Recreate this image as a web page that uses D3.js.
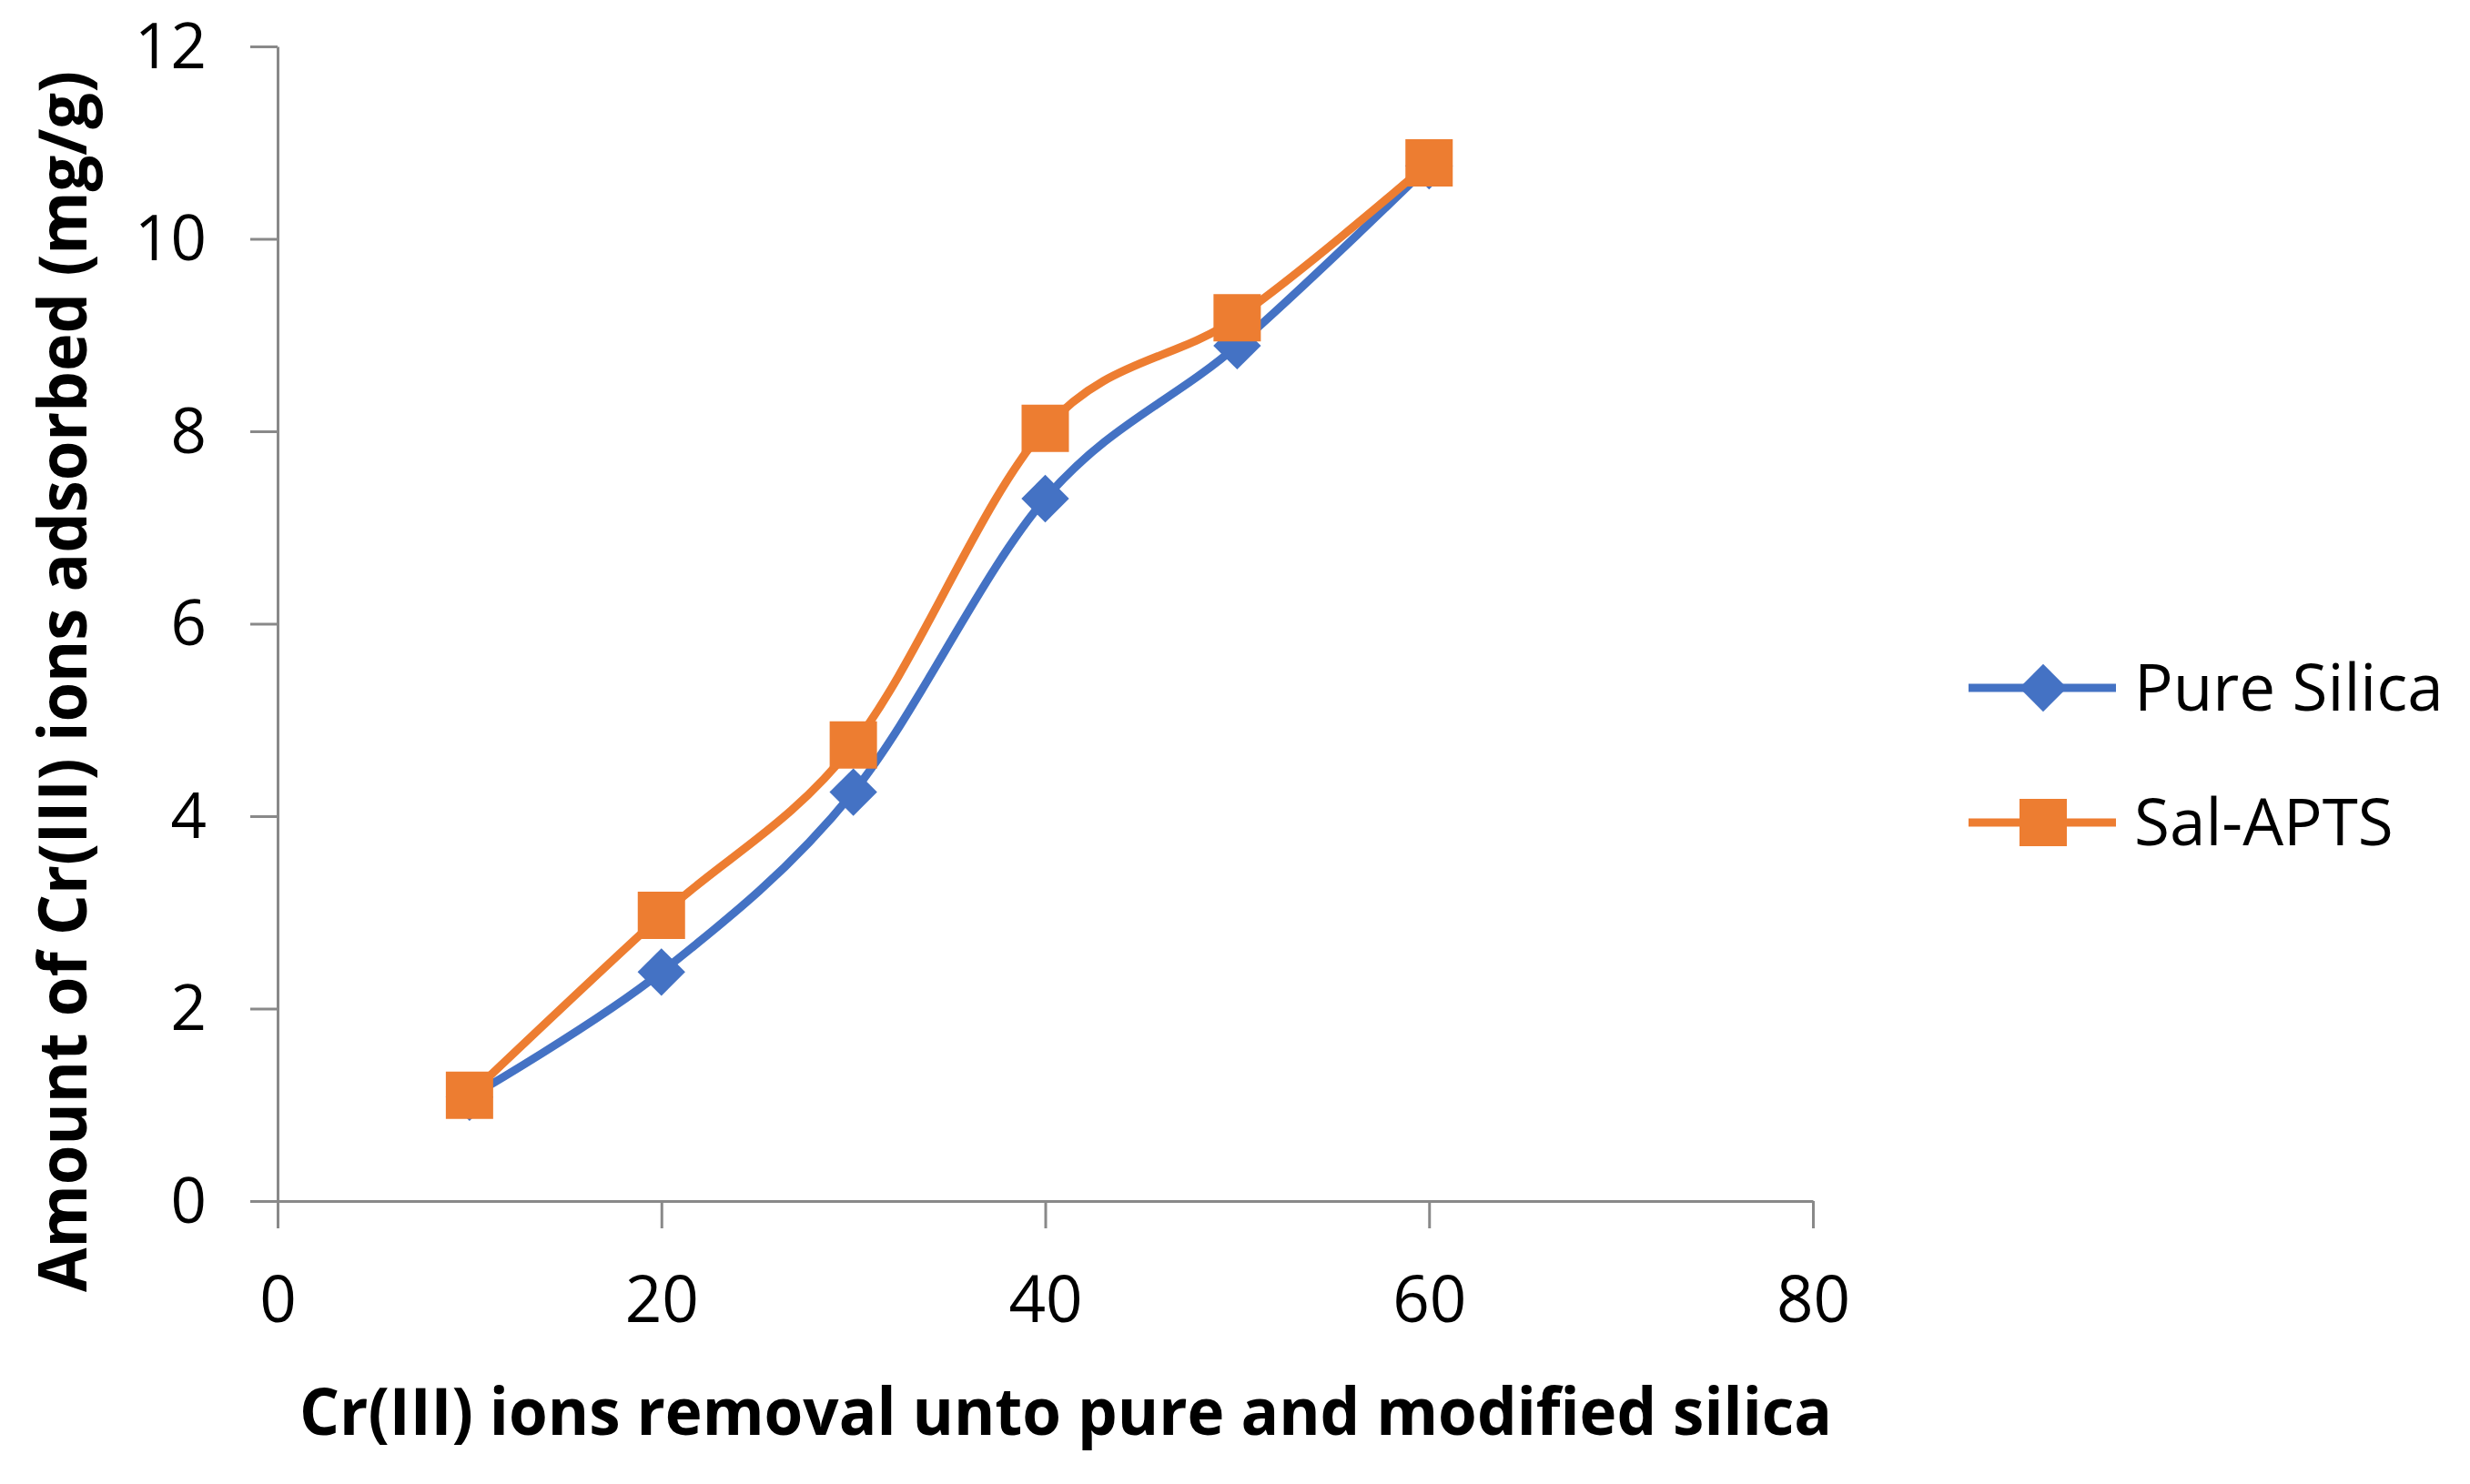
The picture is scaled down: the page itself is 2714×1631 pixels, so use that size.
<!DOCTYPE html>
<html>
<head>
<meta charset="utf-8">
<script src="https://cdn.jsdelivr.net/npm/d3@7"></script>
<style>
  html, body { margin: 0; padding: 0; background: #ffffff; }
  svg { display: block; }
</style>
</head>
<body>
<svg id="chart" width="2714" height="1631"></svg>
<script>
// ---- data ----
const xValues = [10, 20, 30, 40, 50, 60];
const pureSilica = [1.08, 2.38, 4.25, 7.30, 8.89, 10.76];
const salAPTS = [1.10, 2.97, 4.74, 8.03, 9.18, 10.79];
const seriesNames = ["Pure Silica", "Sal-APTS"];
const xTicks = [0, 20, 40, 60, 80];
const yTicks = [0, 2, 4, 6, 8, 10, 12];
const xTitle = "Cr(III) ions removal unto pure and modified silica";
const yTitle = "Amount of Cr(III) ions adsorbed (mg/g)";

// ---- styles ----
const FONT = "'Open Sans', 'Noto Sans', sans-serif";
const BLUE = "#4472C4";
const ORANGE = "#ED7D31";
const AXIS = "#898989";

const svg = d3.select("#chart");
svg.append("rect").attr("width", 2714).attr("height", 1631).attr("fill", "#fff");

const x = d3.scaleLinear().domain([0, 80]).range([305, 1992]);
const y = d3.scaleLinear().domain([0, 12]).range([1320, 51]);

// y axis
const yAxis = svg.append("g")
  .attr("transform", `translate(${x(0)},0)`)
  .call(d3.axisLeft(y).tickValues(yTicks).tickSize(30).tickSizeOuter(0).tickPadding(48).tickFormat(d3.format("d")));
// x axis
const xAxis = svg.append("g")
  .attr("transform", `translate(0,${y(0)})`)
  .call(d3.axisBottom(x).tickValues(xTicks).tickSize(30).tickSizeOuter(0).tickFormat(d3.format("d")));

[yAxis, xAxis].forEach(g => {
  g.select(".domain").attr("stroke", AXIS).attr("stroke-width", 3);
  g.selectAll(".tick line").attr("stroke", AXIS).attr("stroke-width", 3);
  g.selectAll(".tick text")
    .attr("fill", "#000")
    .style("font-family", FONT);
});
yAxis.selectAll(".tick text").style("font-size", "69px").attr("dy", "0.334em");
xAxis.selectAll(".tick text").style("font-size", "71px").attr("y", 133).attr("dy", 0);

// series
const curve = d3.curveCardinal.tension(0);
const line = d3.line().x((d, i) => x(xValues[i])).y(d => y(d)).curve(curve);

const diamond = d3.symbol().type(d3.symbolSquare).size(37 * 37);
const square = d3.symbol().type(d3.symbolSquare).size(52 * 52);

function drawSeries(vals, color, markerType) {
  svg.append("path")
    .attr("d", line(vals))
    .attr("fill", "none")
    .attr("stroke", color)
    .attr("stroke-width", 9)
    .attr("stroke-linejoin", "round");
  svg.append("g").selectAll("path")
    .data(vals)
    .join("path")
    .attr("d", markerType === "diamond" ? diamond() : square())
    .attr("transform", (d, i) => `translate(${x(xValues[i])},${y(d)})` + (markerType === "diamond" ? " rotate(45)" : ""))
    .attr("fill", color);
}
drawSeries(pureSilica, BLUE, "diamond");
drawSeries(salAPTS, ORANGE, "square");

// legend
const legend = [
  { name: seriesNames[0], color: BLUE, type: "diamond", cy: 756 },
  { name: seriesNames[1], color: ORANGE, type: "square", cy: 904 }
];
legend.forEach(l => {
  const g = svg.append("g");
  g.append("line").attr("x1", 2163).attr("x2", 2325).attr("y1", l.cy).attr("y2", l.cy)
    .attr("stroke", l.color).attr("stroke-width", 9);
  g.append("path")
    .attr("d", l.type === "diamond" ? diamond() : square())
    .attr("transform", `translate(2245,${l.cy})` + (l.type === "diamond" ? " rotate(45)" : ""))
    .attr("fill", l.color);
  g.append("text").attr("x", 2345).attr("y", l.cy + 25)
    .style("font-family", FONT).style("font-size", "71px").attr("fill", "#000")
    .text(l.name);
});

// axis titles
svg.append("text")
  .attr("x", 329).attr("y", 1577)
  .attr("textLength", 1684).attr("lengthAdjust", "spacingAndGlyphs")
  .style("font-family", FONT).style("font-size", "72px").style("font-weight", "bold")
  .attr("fill", "#000")
  .text(xTitle);

svg.append("text")
  .attr("transform", "translate(95,1420) rotate(-90)")
  .attr("x", 0).attr("y", 0)
  .attr("textLength", 1342).attr("lengthAdjust", "spacingAndGlyphs")
  .style("font-family", FONT).style("font-size", "73px").style("font-weight", "bold")
  .attr("fill", "#000")
  .text(yTitle);
</script>
</body>
</html>
